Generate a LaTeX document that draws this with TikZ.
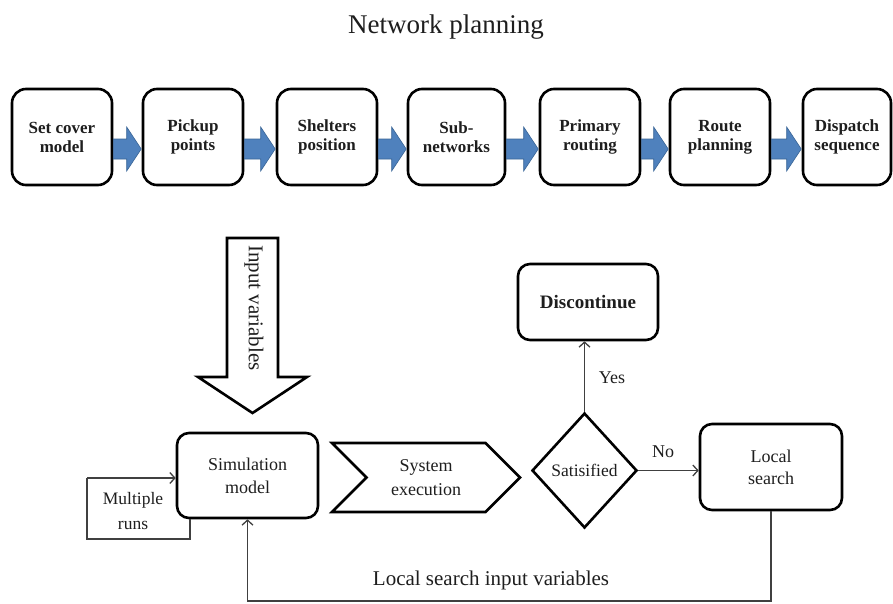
\documentclass[tikz,border=0pt]{standalone}
\usepackage{fontspec}
\setmainfont{Liberation Serif}
\usetikzlibrary{shapes.geometric,shapes.symbols,arrows.meta,calc}
\definecolor{blockblue}{HTML}{4F81BD}
\definecolor{blockedge}{HTML}{3A6596}
\definecolor{connc}{HTML}{404040}
\definecolor{inkc}{HTML}{1E1E1E}
\tikzset{
 topbox/.style={draw=black, line width=2.6pt, rounded corners=14pt, minimum height=96pt, align=center, font=\fontsize{17}{19}\selectfont\bfseries, text=inkc, inner sep=2pt},
 flowbox/.style={draw=black, line width=2.6pt, rounded corners=12pt, align=center, text=inkc, fill=white, font=\fontsize{18}{23}\selectfont},
 conn/.style={draw=connc, line width=1.3pt, -{Straight Barb[length=5pt,width=11pt]}},
 plainline/.style={draw=connc, line width=1.3pt},
 lbl/.style={text=inkc, font=\fontsize{18}{22}\selectfont},
}
\newcommand{\blkarrow}[2]{%
 \path[fill=blockblue, draw=blockedge, line width=0.6pt] let \p1=(#1.east), \p2=(#2.west) in
 (\x1,\y1-2pt) -- (\x2-15pt,\y1-2pt) -- (\x2-15pt,\y1+10pt) -- (\x2-0.5pt,\y1-12pt) -- (\x2-15pt,\y1-34pt) -- (\x2-15pt,\y1-22pt) -- (\x1,\y1-22pt) -- cycle;}
\begin{document}
\begin{tikzpicture}[x=1pt,y=-1pt]
\useasboundingbox (0,0) rectangle (893,603);
\fill[white] (0,0) rectangle (893,603);
% title
\node[font=\fontsize{27}{32}\selectfont, text=inkc] (title) at (446,27) {Network planning};
% top row
\node[topbox, minimum width=100pt] (b1) at (62,137) {Set cover\\model};
\node[topbox, minimum width=100pt] (b2) at (193,137) {Pickup\\points};
\node[topbox, minimum width=100pt] (b3) at (327,137) {Shelters\\position};
\node[topbox, minimum width=97pt] (b4) at (456.5,137) {Sub-\\networks};
\node[topbox, minimum width=100pt] (b5) at (590,137) {Primary\\routing};
\node[topbox, minimum width=100pt] (b6) at (720,137) {Route\\planning};
\node[topbox, minimum width=88pt] (b7) at (847,137) {Dispatch\\sequence};
\blkarrow{b1}{b2}
\blkarrow{b2}{b3}
\blkarrow{b3}{b4}
\blkarrow{b4}{b5}
\blkarrow{b5}{b6}
\blkarrow{b6}{b7}
% input variables block arrow
\draw[line width=2.6pt, draw=black, fill=white, line join=miter] (227,238) -- (278,238) -- (278,377) -- (307,377) -- (252.5,413) -- (198,377) -- (227,377) -- cycle;
\node[rotate=-90, font=\fontsize{21}{24}\selectfont, text=inkc] (iv) at (254,308) {Input variables};
% simulation model
\node[flowbox, minimum width=141pt, minimum height=85pt] (sim) at (247.5,475.5) {Simulation\\model};
% multiple runs
\coordinate (mrtl) at (87,478);
\coordinate (mrbl) at (87,539);
\coordinate (mrbr) at (190,539);
\draw[plainline] (mrbr |- sim.south) -- (mrbr) -- (mrbl) -- (mrtl);
\draw[conn] (mrtl) -- (mrtl -| sim.west);
\node[align=center, text=inkc, font=\fontsize{17.5}{25}\selectfont] (mr) at (133,511) {Multiple\\runs};
% system execution
\node[draw=black, line width=2.6pt, line join=miter, signal, signal to=east, signal from=west, signal pointer angle=90, minimum width=188pt, minimum height=69pt, inner sep=0pt, align=center, text=inkc, font=\fontsize{18}{24}\selectfont] (sys) at (426,477.5) {System\\execution};
% decision
\node[draw=black, line width=2.6pt, diamond, aspect=0.91, minimum width=105pt, minimum height=115pt, inner sep=0pt, text=inkc, font=\fontsize{17.5}{20}\selectfont] (sat) at (584.5,470.5) {Satisified};
\node[flowbox, minimum width=140pt, minimum height=76pt, font=\fontsize{19}{22}\selectfont\bfseries] (disc) at (588,302) {Discontinue};
\node[flowbox, minimum width=142pt, minimum height=86pt, font=\fontsize{18}{22}\selectfont] (ls) at (771,467) {Local\\search};
% connectors
\draw[conn] (sat.north) -- (sat.north |- disc.south);
\draw[conn] (sat.east) -- (sat.east -| ls.west);
\coordinate (loopy) at (0,601);
\draw[conn] (ls.south) -- (ls.south |- loopy) -| (sim.south);
\node[lbl] (yes) at (612,378) {Yes};
\node[lbl] (no) at (663,452) {No};
\node[font=\fontsize{21}{24}\selectfont, text=inkc] (lsiv) at (491,580) {Local search input variables};
\end{tikzpicture}
\end{document}
